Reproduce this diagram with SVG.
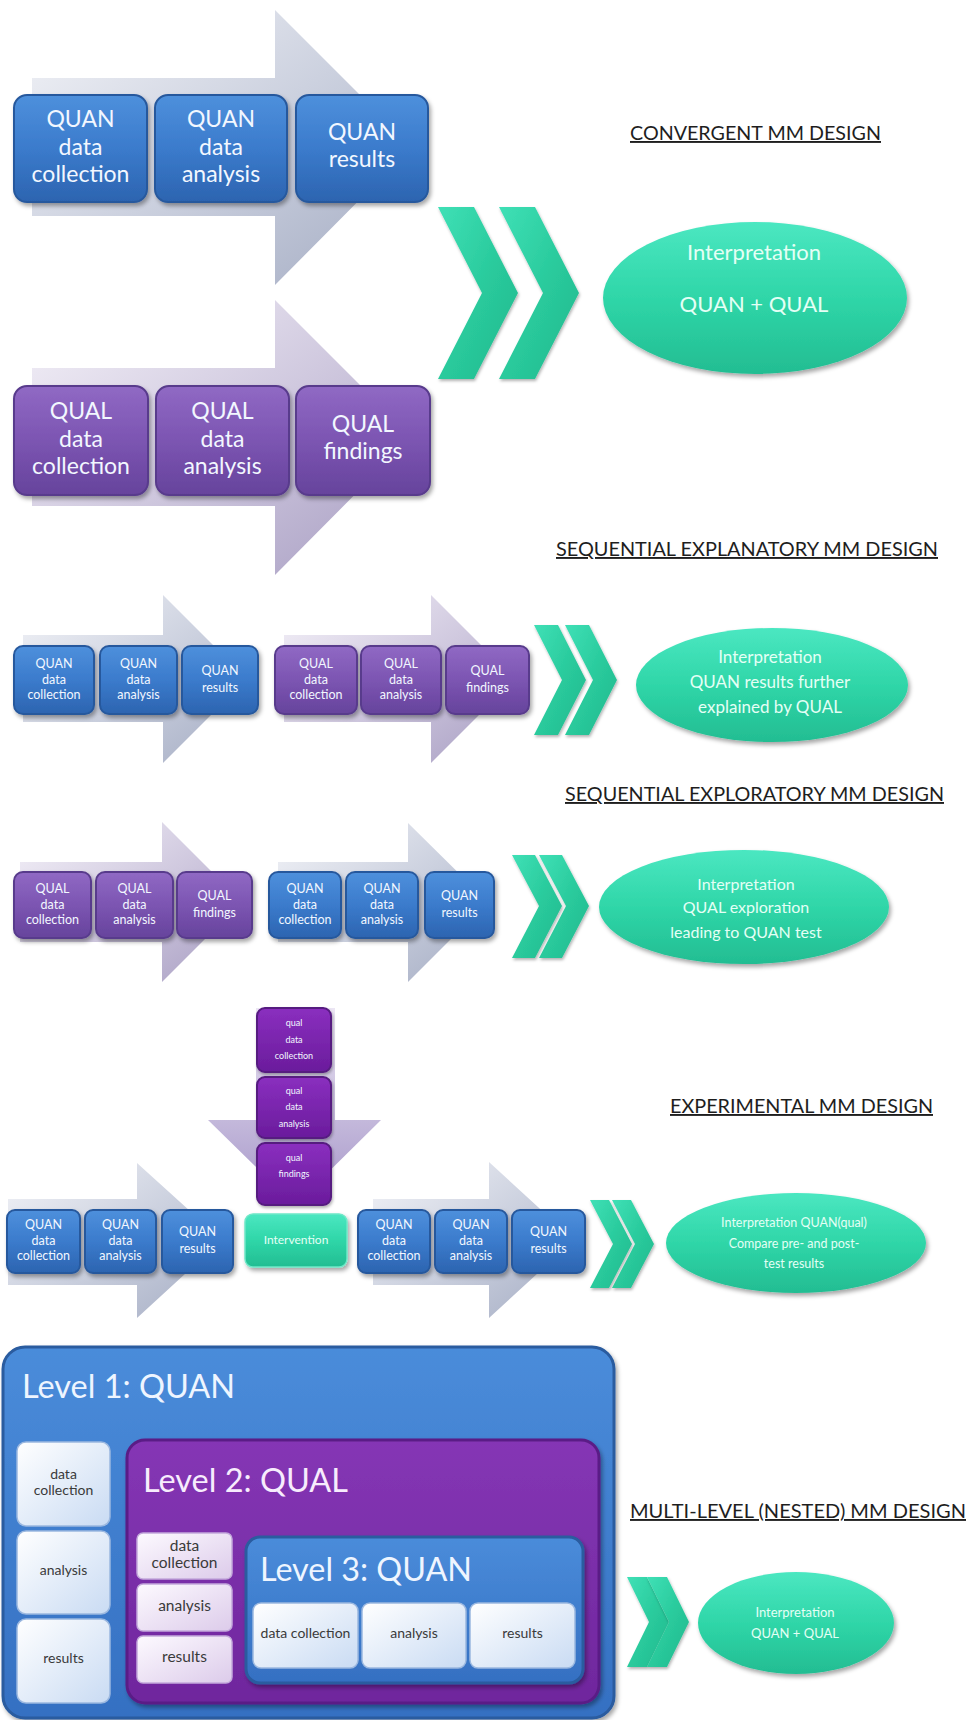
<svg xmlns="http://www.w3.org/2000/svg" width="968" height="1720" viewBox="0 0 968 1720">
<defs>
<linearGradient id="gQuan" x1="0" y1="0" x2="0" y2="1"><stop offset="0" stop-color="#4e90dc"/><stop offset="0.5" stop-color="#3b7bcc"/><stop offset="1" stop-color="#2c64b0"/></linearGradient>
<linearGradient id="gQual" x1="0" y1="0" x2="0" y2="1"><stop offset="0" stop-color="#9069c4"/><stop offset="0.5" stop-color="#7c55b2"/><stop offset="1" stop-color="#66439c"/></linearGradient>
<linearGradient id="gQualD" x1="0" y1="0" x2="0" y2="1"><stop offset="0" stop-color="#8a2fbf"/><stop offset="1" stop-color="#6a1c9c"/></linearGradient>
<linearGradient id="gTeal" x1="0" y1="0" x2="0" y2="1"><stop offset="0" stop-color="#4be7c1"/><stop offset="0.5" stop-color="#2fd6a8"/><stop offset="1" stop-color="#23bd92"/></linearGradient>
<linearGradient id="gChev" x1="0" y1="0" x2="1" y2="1"><stop offset="0" stop-color="#3fe0b6"/><stop offset="0.5" stop-color="#2acb9d"/><stop offset="1" stop-color="#22b88d"/></linearGradient>
<linearGradient id="gArrN" x1="0" y1="0" x2="1" y2="1"><stop offset="0" stop-color="#f3f4f8"/><stop offset="0.5" stop-color="#ccd1df"/><stop offset="1" stop-color="#a4acc3"/></linearGradient>
<linearGradient id="gArrL" x1="0" y1="0" x2="1" y2="1"><stop offset="0" stop-color="#f5f2f9"/><stop offset="0.5" stop-color="#d0c9df"/><stop offset="1" stop-color="#a79dc2"/></linearGradient>
<linearGradient id="gArrD" x1="0" y1="0" x2="0" y2="1"><stop offset="0" stop-color="#ece6f4"/><stop offset="1" stop-color="#a596c8"/></linearGradient>
<linearGradient id="gL1" x1="0" y1="0" x2="0" y2="1"><stop offset="0" stop-color="#4a8cda"/><stop offset="1" stop-color="#3570c2"/></linearGradient>
<linearGradient id="gL2" x1="0" y1="0" x2="0" y2="1"><stop offset="0" stop-color="#8536b5"/><stop offset="1" stop-color="#6f279d"/></linearGradient>
<linearGradient id="gWB" x1="0" y1="0" x2="1" y2="1"><stop offset="0" stop-color="#ffffff"/><stop offset="1" stop-color="#c9dbf3"/></linearGradient>
<linearGradient id="gWP" x1="0" y1="0" x2="1" y2="1"><stop offset="0" stop-color="#fdfaff"/><stop offset="1" stop-color="#dccbea"/></linearGradient>
<filter id="sh" x="-10%" y="-10%" width="130%" height="140%"><feDropShadow dx="2" dy="3" stdDeviation="2" flood-color="#000" flood-opacity="0.35"/></filter>
<filter id="shs" x="-10%" y="-10%" width="130%" height="140%"><feDropShadow dx="1" dy="2" stdDeviation="1.5" flood-color="#000" flood-opacity="0.3"/></filter>
</defs>
<style>
.qn{fill:url(#gQuan);stroke:#28599d;stroke-width:2;filter:url(#sh)}
.ql{fill:url(#gQual);stroke:#583b8c;stroke-width:2;filter:url(#sh)}
.qd{fill:url(#gQualD);stroke:#561a80;stroke-width:2;filter:url(#shs)}
.tl{fill:url(#gTeal);filter:url(#sh)}
.ch{fill:url(#gChev);filter:url(#shs)}
.an{fill:url(#gArrN)}
.al{fill:url(#gArrL)}
.wb{fill:url(#gWB);stroke:#9bb8e0;stroke-width:1.5}
.wp{fill:url(#gWP);stroke:#c3a9db;stroke-width:1.5}
text{font-family:Lato,"Liberation Sans",sans-serif;text-anchor:middle}
.tw{fill:#f2f7ff}
.te{fill:#e4fff5}
.td{fill:#3a3a3a}
.tt{fill:#1e1e1e;font-size:19px;text-anchor:start;text-decoration:underline}
.lv{font-size:32px;text-anchor:start}
</style>
<rect width="968" height="1720" fill="#ffffff"/>

<g id="connectors">
<polygon class="an" points="32,78 275,78 275,10 412,147 275,285 275,216 32,216"/>
<polygon class="al" points="32,368 275,368 275,300 412,437 275,575 275,506 32,506"/>
<polygon class="an" points="23,635 163,635 163,595 247,679 163,763 163,722 23,722"/>
<polygon class="al" points="284,635 431,635 431,595 515,679 431,763 431,722 284,722"/>
<polygon class="al" points="20,862 162,862 162,822 242,902 162,982 162,942 20,942"/>
<polygon class="an" points="278,862 408,862 408,823 488,902 408,982 408,942 278,942"/>
<polygon class="an" points="8,1199 137,1199 137,1163 222,1240 137,1318 137,1285 8,1285"/>
<polygon class="an" points="373,1199 489,1199 489,1162 574,1240 489,1318 489,1285 373,1285"/>
<polygon fill="url(#gArrD)" points="256,1008 335,1008 335,1120 381,1120 295,1205 208,1120 256,1120"/>
<polygon class="ch" points="438,207 474,207 518,293 474,379 438,379 482,293"/>
<polygon class="ch" points="499,207 535,207 579,293 535,379 499,379 543,293"/>
<polygon class="ch" points="534,625 558,625 586,680 558,735 534,735 562,680"/>
<polygon class="ch" points="565,625 589,625 617,680 589,735 565,735 593,680"/>
<polygon class="ch" points="512,855 535,855 562,906 535,958 512,958 539,906"/>
<polygon class="ch" points="539,855 562,855 589,906 562,958 539,958 566,906"/>
<polygon class="ch" points="590,1200 609,1200 632,1244 609,1288 590,1288 613,1244"/>
<polygon class="ch" points="612,1200 631,1200 654,1244 631,1288 612,1288 635,1244"/>
<polygon class="ch" points="627,1577 647,1577 669,1622 647,1667 627,1667 649,1622"/>
<polygon class="ch" points="647,1577 667,1577 689,1622 667,1667 647,1667 669,1622"/>
</g>

<g id="titles">
<text class="tt" x="630" y="140" textLength="251" lengthAdjust="spacingAndGlyphs">CONVERGENT MM DESIGN</text>
<text class="tt" x="556" y="556" textLength="382" lengthAdjust="spacingAndGlyphs">SEQUENTIAL EXPLANATORY MM DESIGN</text>
<text class="tt" x="565" y="801" textLength="379" lengthAdjust="spacingAndGlyphs">SEQUENTIAL EXPLORATORY MM DESIGN</text>
<text class="tt" x="670" y="1113" textLength="263" lengthAdjust="spacingAndGlyphs">EXPERIMENTAL MM DESIGN</text>
<text class="tt" x="630" y="1518" textLength="336" lengthAdjust="spacingAndGlyphs">MULTI-LEVEL (NESTED) MM DESIGN</text>
</g>

<!-- Section 1 -->
<g id="s1-quan-collection"><rect class="qn" x="14" y="95" width="133" height="107" rx="13"/><text class="tw" font-size="23"><tspan x="80.5" y="127">QUAN</tspan><tspan x="80.5" y="154.5">data</tspan><tspan x="80.5" y="182">collection</tspan></text></g>
<g id="s1-quan-analysis"><rect class="qn" x="155" y="95" width="132" height="107" rx="13"/><text class="tw" font-size="23"><tspan x="221" y="127">QUAN</tspan><tspan x="221" y="154.5">data</tspan><tspan x="221" y="182">analysis</tspan></text></g>
<g id="s1-quan-results"><rect class="qn" x="296" y="95" width="132" height="107" rx="13"/><text class="tw" font-size="23"><tspan x="362" y="140">QUAN</tspan><tspan x="362" y="167">results</tspan></text></g>
<g id="s1-qual-collection"><rect class="ql" x="14" y="386" width="134" height="109" rx="13"/><text class="tw" font-size="23"><tspan x="81" y="419">QUAL</tspan><tspan x="81" y="446.5">data</tspan><tspan x="81" y="474">collection</tspan></text></g>
<g id="s1-qual-analysis"><rect class="ql" x="156" y="386" width="133" height="109" rx="13"/><text class="tw" font-size="23"><tspan x="222.5" y="419">QUAL</tspan><tspan x="222.5" y="446.5">data</tspan><tspan x="222.5" y="474">analysis</tspan></text></g>
<g id="s1-qual-findings"><rect class="ql" x="296" y="386" width="134" height="109" rx="13"/><text class="tw" font-size="23"><tspan x="363" y="432">QUAL</tspan><tspan x="363" y="459">findings</tspan></text></g>
<g id="s1-interpretation"><ellipse class="tl" cx="755" cy="298" rx="152" ry="76"/><text class="te" font-size="22"><tspan x="754" y="260">Interpretation</tspan><tspan x="754" y="312">QUAN + QUAL</tspan></text></g>

<!-- Section 2 -->
<g id="s2-quan-collection"><rect class="qn" x="14" y="646" width="80" height="68" rx="9"/><text class="tw" font-size="12.5"><tspan x="54" y="668">QUAN</tspan><tspan x="54" y="683.5">data</tspan><tspan x="54" y="699">collection</tspan></text></g>
<g id="s2-quan-analysis"><rect class="qn" x="100" y="646" width="77" height="68" rx="9"/><text class="tw" font-size="12.5"><tspan x="138.5" y="668">QUAN</tspan><tspan x="138.5" y="683.5">data</tspan><tspan x="138.5" y="699">analysis</tspan></text></g>
<g id="s2-quan-results"><rect class="qn" x="182" y="646" width="76" height="68" rx="9"/><text class="tw" font-size="12.5"><tspan x="220" y="675">QUAN</tspan><tspan x="220" y="692">results</tspan></text></g>
<g id="s2-qual-collection"><rect class="ql" x="275" y="646" width="82" height="68" rx="9"/><text class="tw" font-size="12.5"><tspan x="316" y="668">QUAL</tspan><tspan x="316" y="683.5">data</tspan><tspan x="316" y="699">collection</tspan></text></g>
<g id="s2-qual-analysis"><rect class="ql" x="361" y="646" width="80" height="68" rx="9"/><text class="tw" font-size="12.5"><tspan x="401" y="668">QUAL</tspan><tspan x="401" y="683.5">data</tspan><tspan x="401" y="699">analysis</tspan></text></g>
<g id="s2-qual-findings"><rect class="ql" x="446" y="646" width="83" height="68" rx="9"/><text class="tw" font-size="12.5"><tspan x="487.5" y="675">QUAL</tspan><tspan x="487.5" y="692">findings</tspan></text></g>
<g id="s2-interpretation"><ellipse class="tl" cx="772" cy="685" rx="136" ry="57"/><text class="te" font-size="17"><tspan x="770" y="663">Interpretation</tspan><tspan x="770" y="688">QUAN results further</tspan><tspan x="770" y="713">explained by QUAL</tspan></text></g>

<!-- Section 3 -->
<g id="s3-qual-collection"><rect class="ql" x="14" y="872" width="77" height="66" rx="9"/><text class="tw" font-size="12.5"><tspan x="52.5" y="893">QUAL</tspan><tspan x="52.5" y="908.5">data</tspan><tspan x="52.5" y="924">collection</tspan></text></g>
<g id="s3-qual-analysis"><rect class="ql" x="96" y="872" width="77" height="66" rx="9"/><text class="tw" font-size="12.5"><tspan x="134.5" y="893">QUAL</tspan><tspan x="134.5" y="908.5">data</tspan><tspan x="134.5" y="924">analysis</tspan></text></g>
<g id="s3-qual-findings"><rect class="ql" x="177" y="872" width="75" height="66" rx="9"/><text class="tw" font-size="12.5"><tspan x="214.5" y="900">QUAL</tspan><tspan x="214.5" y="917">findings</tspan></text></g>
<g id="s3-quan-collection"><rect class="qn" x="269" y="872" width="72" height="66" rx="9"/><text class="tw" font-size="12.5"><tspan x="305" y="893">QUAN</tspan><tspan x="305" y="908.5">data</tspan><tspan x="305" y="924">collection</tspan></text></g>
<g id="s3-quan-analysis"><rect class="qn" x="346" y="872" width="72" height="66" rx="9"/><text class="tw" font-size="12.5"><tspan x="382" y="893">QUAN</tspan><tspan x="382" y="908.5">data</tspan><tspan x="382" y="924">analysis</tspan></text></g>
<g id="s3-quan-results"><rect class="qn" x="425" y="872" width="69" height="66" rx="9"/><text class="tw" font-size="12.5"><tspan x="459.5" y="900">QUAN</tspan><tspan x="459.5" y="917">results</tspan></text></g>
<g id="s3-interpretation"><ellipse class="tl" cx="744" cy="907" rx="145" ry="57"/><text class="te" font-size="16"><tspan x="746" y="890">Interpretation</tspan><tspan x="746" y="913">QUAL exploration</tspan><tspan x="746" y="938">leading to QUAN test</tspan></text></g>

<!-- Section 4 -->
<g id="s4-qual-collection"><rect class="qd" x="257" y="1008" width="74" height="64" rx="8"/><text class="tw" font-size="9"><tspan x="294" y="1026">qual</tspan><tspan x="294" y="1043">data</tspan><tspan x="294" y="1059">collection</tspan></text></g>
<g id="s4-qual-analysis"><rect class="qd" x="257" y="1077" width="74" height="61" rx="8"/><text class="tw" font-size="9"><tspan x="294" y="1094">qual</tspan><tspan x="294" y="1110">data</tspan><tspan x="294" y="1127">analysis</tspan></text></g>
<g id="s4-qual-findings"><rect class="qd" x="257" y="1143" width="74" height="62" rx="8"/><text class="tw" font-size="9"><tspan x="294" y="1161">qual</tspan><tspan x="294" y="1177">findings</tspan></text></g>
<g id="s4-intervention"><rect class="tl" x="245" y="1214" width="102" height="53" rx="8" stroke="#6fe8c8" stroke-width="1.5"/><text class="te" font-size="12" x="296" y="1244">Intervention</text></g>
<g id="s4-pre-collection"><rect class="qn" x="7" y="1210" width="73" height="63" rx="8"/><text class="tw" font-size="12.5"><tspan x="43.5" y="1229">QUAN</tspan><tspan x="43.5" y="1244.5">data</tspan><tspan x="43.5" y="1260">collection</tspan></text></g>
<g id="s4-pre-analysis"><rect class="qn" x="85" y="1210" width="71" height="63" rx="8"/><text class="tw" font-size="12.5"><tspan x="120.5" y="1229">QUAN</tspan><tspan x="120.5" y="1244.5">data</tspan><tspan x="120.5" y="1260">analysis</tspan></text></g>
<g id="s4-pre-results"><rect class="qn" x="162" y="1210" width="71" height="63" rx="8"/><text class="tw" font-size="12.5"><tspan x="197.5" y="1236">QUAN</tspan><tspan x="197.5" y="1253">results</tspan></text></g>
<g id="s4-post-collection"><rect class="qn" x="358" y="1210" width="72" height="63" rx="8"/><text class="tw" font-size="12.5"><tspan x="394" y="1229">QUAN</tspan><tspan x="394" y="1244.5">data</tspan><tspan x="394" y="1260">collection</tspan></text></g>
<g id="s4-post-analysis"><rect class="qn" x="435" y="1210" width="72" height="63" rx="8"/><text class="tw" font-size="12.5"><tspan x="471" y="1229">QUAN</tspan><tspan x="471" y="1244.5">data</tspan><tspan x="471" y="1260">analysis</tspan></text></g>
<g id="s4-post-results"><rect class="qn" x="512" y="1210" width="73" height="63" rx="8"/><text class="tw" font-size="12.5"><tspan x="548.5" y="1236">QUAN</tspan><tspan x="548.5" y="1253">results</tspan></text></g>
<g id="s4-interpretation"><ellipse class="tl" cx="796" cy="1243" rx="130" ry="50"/><text class="te" font-size="12.5"><tspan x="794" y="1227">Interpretation QUAN(qual)</tspan><tspan x="794" y="1248">Compare pre- and post-</tspan><tspan x="794" y="1268">test results</tspan></text></g>

<!-- Section 5 -->
<g id="s5-level1"><rect x="3" y="1347" width="611" height="371" rx="22" fill="url(#gL1)" stroke="#2a5b9f" stroke-width="3" filter="url(#sh)"/><text class="lv" fill="#eef5ff" x="22" y="1398" textLength="213" lengthAdjust="spacingAndGlyphs">Level 1: QUAN</text></g>
<g id="s5-l1-collection"><rect class="wb" x="17" y="1442" width="93" height="84" rx="9"/><text class="td" font-size="14"><tspan x="63.5" y="1479">data</tspan><tspan x="63.5" y="1495">collection</tspan></text></g>
<g id="s5-l1-analysis"><rect class="wb" x="17" y="1531" width="93" height="83" rx="9"/><text class="td" font-size="14" x="63.5" y="1575">analysis</text></g>
<g id="s5-l1-results"><rect class="wb" x="17" y="1619" width="93" height="84" rx="9"/><text class="td" font-size="14" x="63.5" y="1663">results</text></g>
<g id="s5-level2"><rect x="127" y="1440" width="472" height="263" rx="18" fill="url(#gL2)" stroke="#5a1d86" stroke-width="3" filter="url(#sh)"/><text class="lv" fill="#f7ecfd" x="143" y="1492" textLength="205" lengthAdjust="spacingAndGlyphs">Level 2: QUAL</text></g>
<g id="s5-l2-collection"><rect class="wp" x="137" y="1533" width="95" height="46" rx="6"/><text class="td" font-size="15.5"><tspan x="184.5" y="1551">data</tspan><tspan x="184.5" y="1568">collection</tspan></text></g>
<g id="s5-l2-analysis"><rect class="wp" x="137" y="1584" width="95" height="47" rx="6"/><text class="td" font-size="15.5" x="184.5" y="1611">analysis</text></g>
<g id="s5-l2-results"><rect class="wp" x="137" y="1636" width="95" height="47" rx="6"/><text class="td" font-size="15.5" x="184.5" y="1662">results</text></g>
<g id="s5-level3"><rect x="246" y="1537" width="337" height="146" rx="14" fill="url(#gL1)" stroke="#2a5b9f" stroke-width="3" filter="url(#sh)"/><text class="lv" fill="#eef5ff" x="260" y="1581" textLength="212" lengthAdjust="spacingAndGlyphs">Level 3: QUAN</text></g>
<g id="s5-l3-collection"><rect class="wb" x="253" y="1603" width="105" height="65" rx="8"/><text class="td" font-size="14" x="305.5" y="1638">data collection</text></g>
<g id="s5-l3-analysis"><rect class="wb" x="362" y="1603" width="104" height="65" rx="8"/><text class="td" font-size="14" x="414" y="1638">analysis</text></g>
<g id="s5-l3-results"><rect class="wb" x="470" y="1603" width="105" height="65" rx="8"/><text class="td" font-size="14" x="522.5" y="1638">results</text></g>
<g id="s5-interpretation"><ellipse class="tl" cx="796" cy="1623" rx="98" ry="51"/><text class="te" font-size="13"><tspan x="795" y="1617">Interpretation</tspan><tspan x="795" y="1638">QUAN + QUAL</tspan></text></g>
</svg>
